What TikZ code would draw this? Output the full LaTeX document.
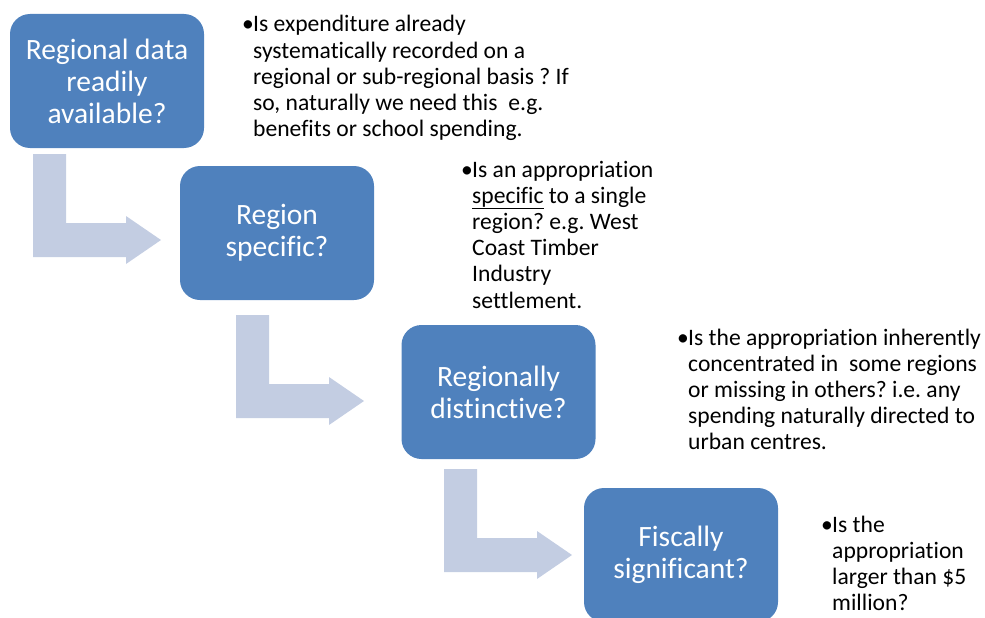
\documentclass[tikz,border=0pt]{standalone}
\usepackage{fontspec}
\setmainfont{Carlito}[Ligatures=NoCommon]
\frenchspacing
\definecolor{boxblue}{RGB}{79,129,189}
\definecolor{arrowfill}{RGB}{195,205,226}
\tikzset{
  qbox/.style={fill=boxblue, draw=none, rounded corners=20pt, minimum width=194pt, minimum height=134pt, inner sep=0pt, text=white, align=center, font=\fontsize{29.5}{32}\selectfont},
  note/.style={anchor=base west, inner sep=0pt, text=black, font=\fontsize{23.6}{26.2}\selectfont},
  bentarrow/.pic={\fill[arrowfill] (0,0) -- (33,0) -- (33,69) -- (93,69) -- (93,62) -- (128,86) -- (93,110) -- (93,103) -- (0,103) -- cycle;}
}
\newcommand{\bul}{\makebox[11pt][l]{•}}
\begin{document}
\begin{tikzpicture}[x=1pt,y=-1pt]
\useasboundingbox (0,0) rectangle (985,618);
% arrows
\pic at (33,154) {bentarrow};
\pic at (236,315) {bentarrow};
\pic at (444,469) {bentarrow};
% boxes
\node[qbox] (b1) at (107,81) {Regional data\\readily\\available?};
\node[qbox] (b2) at (277,233) {Region\\specific?};
\node[qbox] (b3) at (498.5,392) {Regionally\\distinctive?};
\node[qbox] (b4) at (681,555) {Fiscally\\significant?};
% notes
\node[note] (t1) at (242,32) {\bul\begin{tabular}[t]{@{}l@{}}Is expenditure already\\systematically recorded on a\\regional or sub-regional basis ? If\\so, naturally we need this\ \ e.g.\\benefits or school spending.\end{tabular}};
\node[note] (t2) at (461,177) {\bul\begin{tabular}[t]{@{}l@{}}Is an appropriation\\\underline{specific} to a single\\region? e.g. West\\Coast Timber\\Industry\\settlement.\end{tabular}};
\node[note] (t3) at (677,345) {\bul\begin{tabular}[t]{@{}l@{}}Is the appropriation inherently\\concentrated in\ \ some regions\\or missing in others? i.e. any\\spending naturally directed to\\urban centres.\end{tabular}};
\node[note] (t4) at (821,532) {\bul\begin{tabular}[t]{@{}l@{}}Is the\\appropriation\\larger than \$5\\million?\end{tabular}};
\end{tikzpicture}
\end{document}
